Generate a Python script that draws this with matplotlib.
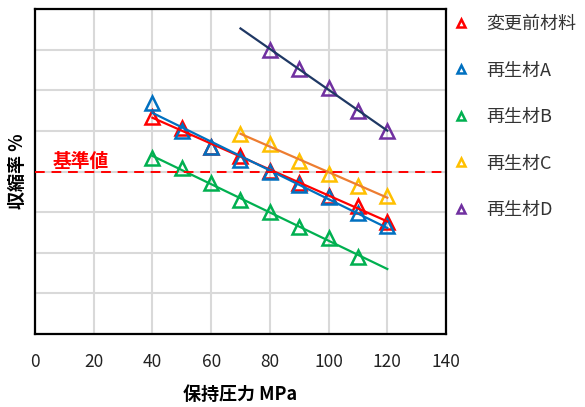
import matplotlib
matplotlib.use("Agg")
import matplotlib.pyplot as plt
import numpy as np

plt.rcParams['font.family'] = ['Noto Sans CJK JP', 'DejaVu Sans']

pressure = [40, 50, 60, 70, 80, 90, 100, 110, 120]

names = ['変更前材料', '再生材A', '再生材B', '再生材C', '再生材D']
x_data = [
    [40, 50, 60, 70, 80, 90, 100, 110, 120],
    [40, 50, 60, 70, 80, 90, 100, 110, 120],
    [40, 50, 60, 70, 80, 90, 100, 110],
    [70, 80, 90, 100, 110, 120],
    [80, 90, 100, 110, 120],
]
y_data = [
    [5.34, 5.07, 4.60, 4.38, 4.01, 3.72, 3.40, 3.15, 2.76],
    [5.69, 5.00, 4.60, 4.28, 3.99, 3.67, 3.37, 2.98, 2.66],
    [4.33, 4.09, 3.72, 3.30, 3.00, 2.63, 2.36, 1.90],
    [4.92, 4.68, 4.26, 3.94, 3.65, 3.40],
    [7.00, 6.52, 6.05, 5.49, 5.00],
]
trend_range = [(40, 120), (40, 120), (40, 120), (70, 120), (70, 120)]
marker_colors = ['#FF0000', '#0070C0', '#00B050', '#FFC000', '#7030A0']
line_colors = ['#FF0000', '#0070C0', '#00B050', '#ED7D31', '#1F3864']

reference_value = 4.0
reference_label = '基準値'
x_ticks = [0, 20, 40, 60, 80, 100, 120, 140]

fig = plt.figure(figsize=(5.85, 4.07), dpi=100)
ax = fig.add_axes([35/585, 1-334/407, (446-35)/585, (334-9)/407])

for i, name in enumerate(names):
    ax.plot(x_data[i], y_data[i], linestyle='none', marker='^', ms=9.5,
            mfc='none', mec=marker_colors[i], mew=1.8, label=name, zorder=3)
for i, name in enumerate(names):
    c = np.polyfit(x_data[i], y_data[i], 1)
    xs = np.array(trend_range[i])
    ax.plot(xs, np.polyval(c, xs), color=line_colors[i], lw=1.6, zorder=4)

ax.axhline(reference_value, color='#FF0000', lw=1.4, ls=(0, (5, 3.5)), zorder=5)
ax.text(6, reference_value + 0.02, reference_label, color='#FF0000', fontsize=13.5,
        fontweight='bold', ha='left', va='bottom')

ax.set_xlim(0, 140)
ax.set_ylim(0, 8)
ax.set_xticks(x_ticks)
ax.set_xticklabels([str(t) for t in x_ticks], fontsize=12.5, color='#222222')
ax.set_yticks(range(0, 9))
ax.set_yticklabels([])
ax.tick_params(length=0, pad=14)
ax.tick_params(axis='y', pad=0)
ax.grid(True, color='#D9D9D9', lw=1.5, zorder=0)
ax.set_axisbelow(True)
for s in ax.spines.values():
    s.set_color('black')
    s.set_linewidth(1.6)

ax.set_xlabel('保持圧力 MPa', fontsize=13, fontweight='bold', labelpad=10)
ax.set_ylabel('収縮率 %', fontsize=13, fontweight='bold', labelpad=6)

leg = ax.legend(loc='upper left', bbox_to_anchor=(1.012, 0.981), frameon=False,
                fontsize=13, markerscale=0.65, handlelength=1.15,
                handletextpad=0.8, labelspacing=1.58, borderaxespad=0,
                borderpad=0)
for t in leg.get_texts():
    t.set_color('#333333')

fig.savefig('out.png', dpi=100)
